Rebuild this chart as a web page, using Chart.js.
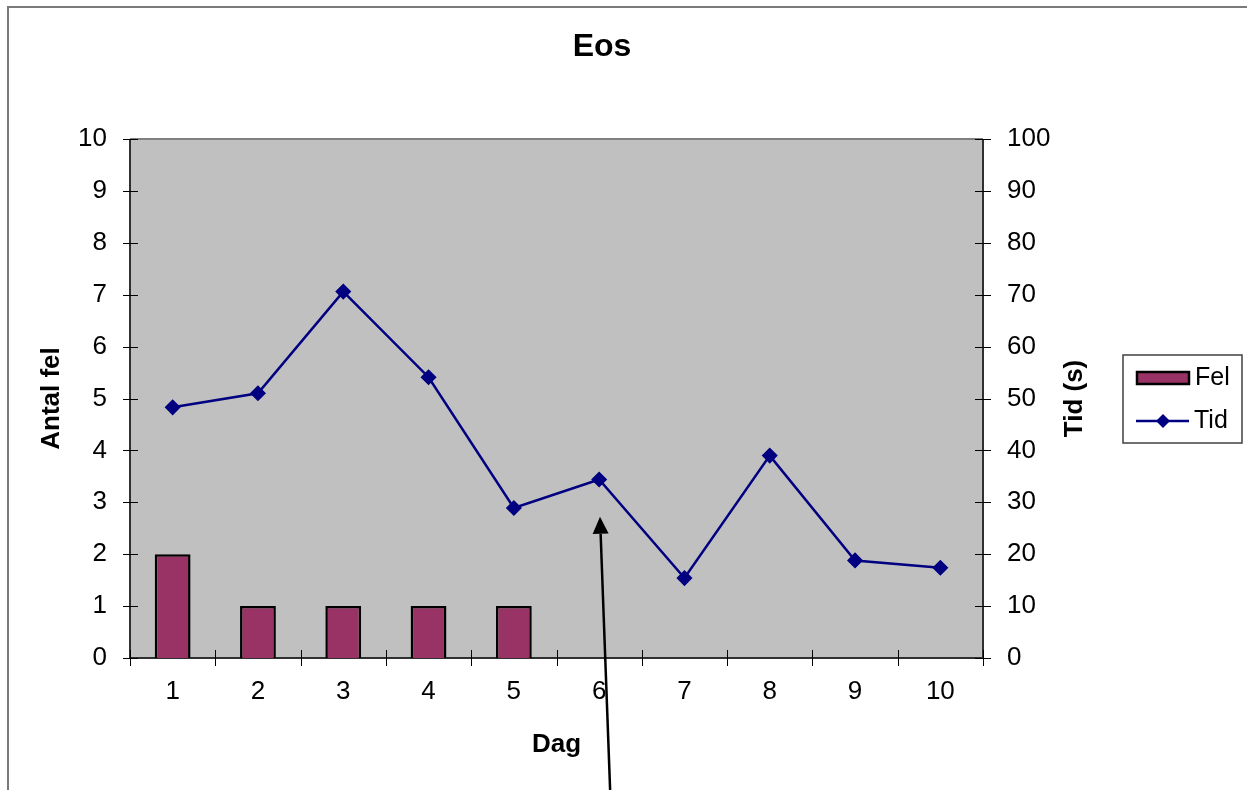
<!DOCTYPE html>
<html>
<head>
<meta charset="utf-8">
<script src="https://cdn.jsdelivr.net/npm/chart.js@4/dist/chart.umd.min.js"></script>
<style>
  html, body { margin: 0; padding: 0; background: #ffffff; }
  #wrap { width: 1247px; height: 790px; position: relative; }
  canvas { display: block; }
</style>
</head>
<body>
<div id="wrap"><canvas id="chart" width="1247" height="790"></canvas></div>
<script>
// Day numbers along the horizontal axis
const days = ['1', '2', '3', '4', '5', '6', '7', '8', '9', '10'];
// Number of errors per day (left axis)
const felValues = [2, 1, 1, 1, 1, 0, 0, 0, 0, 0];
// Time in seconds per day (right axis)
const tidValues = [48.3, 51.0, 70.6, 54.1, 28.9, 34.4, 15.4, 39.0, 18.8, 17.4];
// Axis ranges
const felAxis = { min: 0, max: 10, step: 1 };
const tidAxis = { min: 0, max: 100, step: 10 };
// Pointer arrow, in category index / left-axis units
const arrowTail = { x: 5.13, y: -2.6 };
const arrowTip = { x: 5.01, y: 2.72 };

const FONT = '"Liberation Sans", Arial, sans-serif';
const BAR_COLOR = '#993366';
const LINE_COLOR = '#000080';

const crisp = v => Math.round(v) + 0.5;

const framePlugin = {
  id: 'frame',
  beforeDraw(chart) {
    const { ctx, chartArea: a } = chart;
    ctx.save();
    ctx.fillStyle = '#ffffff';
    ctx.fillRect(0, 0, chart.width, chart.height);
    // outer frame
    ctx.strokeStyle = '#7a7a7a';
    ctx.lineWidth = 2;
    ctx.strokeRect(8, 7, chart.width + 10, chart.height + 10);
    // plot area
    ctx.fillStyle = '#c0c0c0';
    ctx.fillRect(a.left, a.top, a.right - a.left, a.bottom - a.top);
    ctx.strokeStyle = '#808080';
    ctx.lineWidth = 2;
    ctx.beginPath();
    ctx.moveTo(a.left, a.top);
    ctx.lineTo(a.right, a.top);
    ctx.stroke();
    ctx.restore();
  },
  beforeDatasetsDraw(chart) {
    const { ctx, chartArea: a, scales } = chart;
    ctx.save();
    ctx.strokeStyle = '#303030';
    ctx.lineWidth = 2;
    ctx.beginPath();
    ctx.moveTo(a.left, a.top); ctx.lineTo(a.left, a.bottom);
    ctx.moveTo(a.right, a.top); ctx.lineTo(a.right, a.bottom);
    ctx.moveTo(a.left, a.bottom); ctx.lineTo(a.right, a.bottom);
    ctx.stroke();
    // tick marks crossing the axes
    ctx.strokeStyle = '#000000';
    ctx.lineWidth = 1;
    ctx.beginPath();
    scales.y.ticks.forEach(t => {
      const y = crisp(scales.y.getPixelForValue(t.value));
      ctx.moveTo(a.left - 7, y); ctx.lineTo(a.left + 8, y);
    });
    scales.y1.ticks.forEach(t => {
      const y = crisp(scales.y1.getPixelForValue(t.value));
      ctx.moveTo(a.right - 8, y); ctx.lineTo(a.right + 8, y);
    });
    for (let i = 0; i <= days.length; i++) {
      const x = crisp(scales.x.getPixelForValue(i - 0.5));
      ctx.moveTo(x, a.bottom - 8); ctx.lineTo(x, a.bottom + 8);
    }
    ctx.stroke();
    ctx.restore();
  },
  afterDraw(chart) {
    const { ctx, chartArea: a, scales } = chart;
    ctx.save();
    // chart title
    ctx.fillStyle = '#000000';
    ctx.font = 'bold 32px ' + FONT;
    ctx.textAlign = 'center';
    ctx.textBaseline = 'middle';
    ctx.fillText('Eos', 602, 47);
    // right axis title, reading upwards
    ctx.font = 'bold 26px ' + FONT;
    ctx.translate(1075, (a.top + a.bottom) / 2);
    ctx.rotate(-Math.PI / 2);
    ctx.fillText('Tid (s)', 0, 0);
    ctx.restore();

    // pointer arrow
    ctx.save();
    const x0 = scales.x.getPixelForValue(arrowTail.x);
    const y0 = scales.y.getPixelForValue(arrowTail.y);
    const x1 = scales.x.getPixelForValue(arrowTip.x);
    const y1 = scales.y.getPixelForValue(arrowTip.y);
    const ang = Math.atan2(y1 - y0, x1 - x0);
    const headLen = 17, headHalf = 8;
    const bx = x1 - Math.cos(ang) * headLen, by = y1 - Math.sin(ang) * headLen;
    ctx.strokeStyle = '#000000';
    ctx.lineWidth = 2.5;
    ctx.beginPath();
    ctx.moveTo(x0, y0);
    ctx.lineTo(bx, by);
    ctx.stroke();
    ctx.fillStyle = '#000000';
    ctx.beginPath();
    ctx.moveTo(x1, y1);
    ctx.lineTo(bx + Math.sin(ang) * headHalf, by - Math.cos(ang) * headHalf);
    ctx.lineTo(bx - Math.sin(ang) * headHalf, by + Math.cos(ang) * headHalf);
    ctx.closePath();
    ctx.fill();
    ctx.restore();

    // legend
    ctx.save();
    ctx.fillStyle = '#ffffff';
    ctx.fillRect(1123, 355, 119, 88);
    ctx.strokeStyle = '#404040';
    ctx.lineWidth = 1.5;
    ctx.strokeRect(1123, 355, 119, 88);
    ctx.fillStyle = BAR_COLOR;
    ctx.fillRect(1137, 372, 52, 12);
    ctx.strokeStyle = '#000000';
    ctx.lineWidth = 2.5;
    ctx.strokeRect(1137, 372, 52, 12);
    ctx.strokeStyle = LINE_COLOR;
    ctx.lineWidth = 2.5;
    ctx.beginPath();
    ctx.moveTo(1136, 421); ctx.lineTo(1189, 421);
    ctx.stroke();
    ctx.fillStyle = LINE_COLOR;
    ctx.beginPath();
    ctx.moveTo(1163, 414); ctx.lineTo(1170, 421); ctx.lineTo(1163, 428); ctx.lineTo(1156, 421);
    ctx.closePath();
    ctx.fill();
    ctx.fillStyle = '#000000';
    ctx.font = '25px ' + FONT;
    ctx.textAlign = 'left';
    ctx.textBaseline = 'middle';
    ctx.fillText('Fel', 1195, 378);
    ctx.fillText('Tid', 1194, 421);
    ctx.restore();
  }
};

new Chart(document.getElementById('chart'), {
  data: {
    labels: days,
    datasets: [
      {
        type: 'line',
        label: 'Tid',
        data: tidValues,
        yAxisID: 'y1',
        borderColor: LINE_COLOR,
        backgroundColor: LINE_COLOR,
        borderWidth: 2.5,
        pointStyle: 'rectRot',
        pointRadius: 7,
        pointBorderWidth: 1.5,
        pointBackgroundColor: LINE_COLOR,
        pointBorderColor: LINE_COLOR,
        tension: 0,
        order: 0
      },
      {
        type: 'bar',
        label: 'Fel',
        data: felValues,
        yAxisID: 'y',
        backgroundColor: BAR_COLOR,
        borderColor: '#000000',
        borderWidth: 2.5,
        categoryPercentage: 1,
        barPercentage: 0.42,
        order: 1
      }
    ]
  },
  options: {
    responsive: false,
    animation: false,
    devicePixelRatio: 1,
    layout: { padding: { top: 139, left: 0, right: 0, bottom: 0 } },
    plugins: {
      legend: { display: false },
      title: { display: false },
      tooltip: { enabled: false }
    },
    scales: {
      x: {
        type: 'category',
        offset: true,
        grid: { display: false, drawTicks: false },
        border: { display: false },
        ticks: { color: '#000000', font: { family: FONT, size: 26 }, padding: 18, maxRotation: 0 },
        title: { display: true, text: 'Dag', color: '#000000', font: { family: FONT, size: 26, weight: 'bold' }, padding: { top: 0, bottom: 30 } },
        afterFit(s) { s.height = 132; }
      },
      y: {
        type: 'linear',
        position: 'left',
        min: felAxis.min,
        max: felAxis.max,
        grid: { display: false, drawTicks: false },
        border: { display: false },
        ticks: { stepSize: felAxis.step, color: '#000000', font: { family: FONT, size: 26 }, padding: 23 },
        title: { display: true, text: 'Antal fel', color: '#000000', font: { family: FONT, size: 26, weight: 'bold' }, padding: { top: 36, bottom: 0 } },
        afterFit(s) { s.width = 130; }
      },
      y1: {
        type: 'linear',
        position: 'right',
        min: tidAxis.min,
        max: tidAxis.max,
        grid: { display: false, drawTicks: false },
        border: { display: false },
        ticks: { stepSize: tidAxis.step, color: '#000000', font: { family: FONT, size: 26 }, padding: 24 },
        afterFit(s) { s.width = 264; }
      }
    }
  },
  plugins: [framePlugin]
});
</script>
</body>
</html>
